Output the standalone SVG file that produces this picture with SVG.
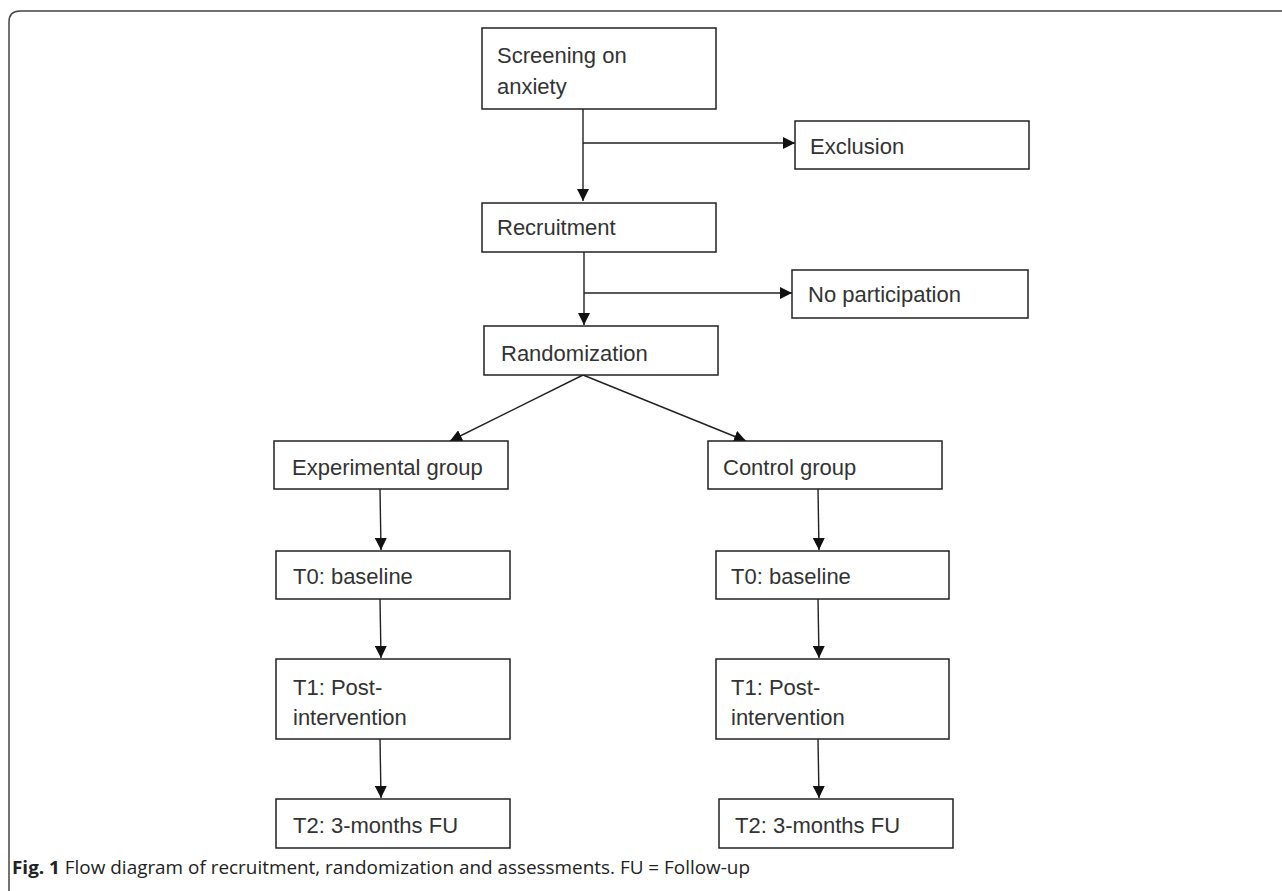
<svg xmlns="http://www.w3.org/2000/svg" width="1282" height="891" viewBox="0 0 1282 891">
<style>
.box{fill:#fff;stroke:#222;stroke-width:1.5}
.t{font-family:"Liberation Sans",Arial,sans-serif;font-size:22px;fill:#333}
.c{stroke:#222;stroke-width:1.4;fill:none}
.cap{font-family:"Open Sans","Noto Sans",sans-serif;font-size:18px;fill:#222}
</style>
<defs>
<marker id="ah" viewBox="0 0 10 10" refX="10" refY="5" markerWidth="12" markerHeight="12" markerUnits="userSpaceOnUse" orient="auto">
<path d="M0,0 L10,5 L0,10 Z" fill="#111"/>
</marker>
</defs>
<rect width="1282" height="891" fill="#fff"/>
<path d="M9,891 V22 Q9,11 20,11 H1282" fill="none" stroke="#444" stroke-width="1.5"/>

<g id="connectors">
<line class="c" x1="583" y1="109" x2="583" y2="201" marker-end="url(#ah)"/>
<line class="c" x1="583" y1="143" x2="795" y2="143" marker-end="url(#ah)"/>
<line class="c" x1="584" y1="252" x2="584" y2="325" marker-end="url(#ah)"/>
<line class="c" x1="584" y1="293" x2="792" y2="293" marker-end="url(#ah)"/>
<line class="c" x1="583" y1="375" x2="450" y2="441" marker-end="url(#ah)"/>
<line class="c" x1="583" y1="375" x2="746" y2="441" marker-end="url(#ah)"/>
<line class="c" x1="380" y1="489" x2="381" y2="550" marker-end="url(#ah)"/>
<line class="c" x1="380" y1="599" x2="381" y2="658" marker-end="url(#ah)"/>
<line class="c" x1="380" y1="739" x2="381" y2="798" marker-end="url(#ah)"/>
<line class="c" x1="818" y1="489" x2="819" y2="550" marker-end="url(#ah)"/>
<line class="c" x1="818" y1="599" x2="819" y2="658" marker-end="url(#ah)"/>
<line class="c" x1="818" y1="739" x2="819" y2="798" marker-end="url(#ah)"/>
</g>

<g id="screening"><rect class="box" x="482" y="28" width="234" height="81"/>
<text class="t" x="497" y="63">Screening on</text><text class="t" x="497" y="94">anxiety</text></g>
<g id="exclusion"><rect class="box" x="795" y="121" width="234" height="48"/>
<text class="t" x="810" y="154">Exclusion</text></g>
<g id="recruitment"><rect class="box" x="482" y="203" width="234" height="49"/>
<text class="t" x="497" y="235">Recruitment</text></g>
<g id="noparticipation"><rect class="box" x="792" y="270" width="236" height="48"/>
<text class="t" x="808" y="302">No participation</text></g>
<g id="randomization"><rect class="box" x="484" y="326" width="234" height="49"/>
<text class="t" x="501" y="361">Randomization</text></g>
<g id="experimental"><rect class="box" x="274" y="441" width="234" height="48"/>
<text class="t" x="292" y="475">Experimental group</text></g>
<g id="control"><rect class="box" x="708" y="441" width="234" height="48"/>
<text class="t" x="723" y="475">Control group</text></g>
<g id="t0-exp"><rect class="box" x="276" y="551" width="234" height="48"/>
<text class="t" x="293" y="584">T0: baseline</text></g>
<g id="t0-ctl"><rect class="box" x="716" y="551" width="233" height="48"/>
<text class="t" x="731" y="584">T0: baseline</text></g>
<g id="t1-exp"><rect class="box" x="276" y="659" width="234" height="80"/>
<text class="t" x="293" y="695">T1: Post-</text><text class="t" x="293" y="725">intervention</text></g>
<g id="t1-ctl"><rect class="box" x="716" y="659" width="233" height="80"/>
<text class="t" x="731" y="695">T1: Post-</text><text class="t" x="731" y="725">intervention</text></g>
<g id="t2-exp"><rect class="box" x="276" y="799" width="234" height="49"/>
<text class="t" x="293" y="833">T2: 3-months FU</text></g>
<g id="t2-ctl"><rect class="box" x="719" y="799" width="234" height="49"/>
<text class="t" x="735" y="833">T2: 3-months FU</text></g>

<text class="cap" x="12" y="874" textLength="738" lengthAdjust="spacingAndGlyphs"><tspan font-weight="bold">Fig. 1</tspan> Flow diagram of recruitment, randomization and assessments. FU = Follow-up</text>
</svg>
